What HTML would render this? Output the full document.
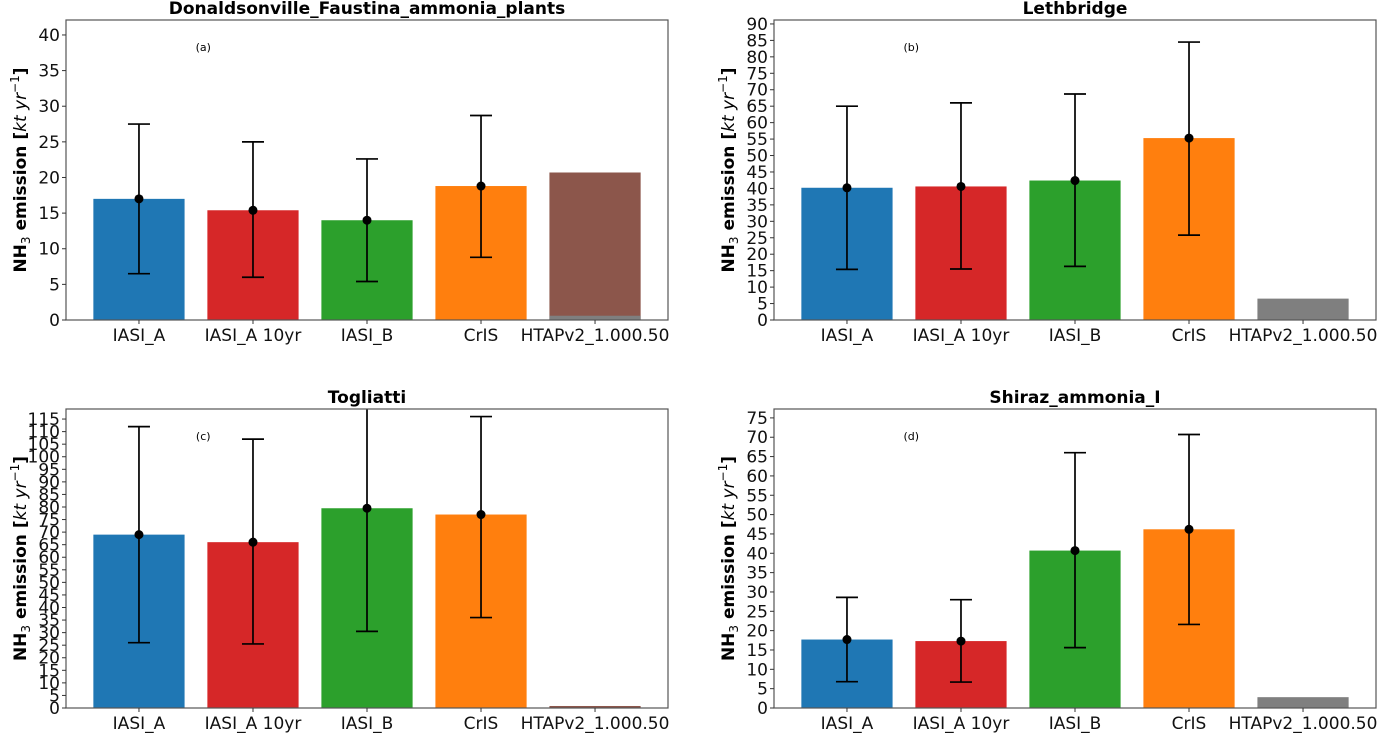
<!DOCTYPE html>
<html><head><meta charset="utf-8"><style>
html,body{margin:0;padding:0;background:#fff;}
svg{display:block;font-family:"DejaVu Sans","Liberation Sans",sans-serif;}
</style></head><body>
<svg id="fig" width="1378" height="734" viewBox="0 0 1378 734" xmlns="http://www.w3.org/2000/svg"></svg>
<script>
const categories = ["IASI_A","IASI_A 10yr","IASI_B","CrIS","HTAPv2_1.000.50"];
const titles = ["Donaldsonville_Faustina_ammonia_plants","Lethbridge","Togliatti","Shiraz_ammonia_I"];
const letters = ["(a)","(b)","(c)","(d)"];
const valuesA = [17.0,15.4,14.0,18.8,20.7];
const lowA = [6.5,6.0,5.4,8.8];
const highA = [27.5,25.0,22.6,28.7];
const valuesB = [40.2,40.6,42.4,55.3,6.5];
const lowB = [15.4,15.5,16.3,25.8];
const highB = [65.0,66.0,68.7,84.5];
const valuesC = [69.0,66.0,79.5,77.0,0.8];
const lowC = [26.0,25.5,30.5,36.0];
const highC = [112.0,107.0,121.0,116.0];
const valuesD = [17.7,17.3,40.7,46.2,2.8];
const lowD = [6.8,6.7,15.6,21.6];
const highD = [28.6,28.0,66.0,70.7];
const htapGrayA = 0.6;
const yMaxes = [42.1,91.2,119,77.3];
const tickSteps = [5,5,5,5];
const barColors = ["#1f77b4","#d62728","#2ca02c","#ff7f0e"];
const htapColors = ["#8c564b","#7f7f7f","#8c564b","#7f7f7f"];

const panels = [
 {x0:66,x1:668,y0:20,y1:320,vals:valuesA,lo:lowA,hi:highA},
 {x0:774,x1:1376,y0:20,y1:320,vals:valuesB,lo:lowB,hi:highB},
 {x0:66,x1:668,y0:409,y1:708,vals:valuesC,lo:lowC,hi:highC},
 {x0:774,x1:1376,y0:409,y1:708,vals:valuesD,lo:lowD,hi:highD}
];
const NS="http://www.w3.org/2000/svg";
const svg=document.getElementById('fig');
function mk(tag,attrs,parent){const e=document.createElementNS(NS,tag);for(const k in attrs)e.setAttribute(k,attrs[k]);(parent||svg).appendChild(e);return e;}

panels.forEach((p,i)=>{
  const g=mk('g',{});
  
  
  const ymax=yMaxes[i];
  const n=categories.length;
  const xmin=-0.64, xmaxv=n-1+0.64;
  const xs=v=>p.x0+(v-xmin)/(xmaxv-xmin)*(p.x1-p.x0);
  const ys=v=>p.y1-v/ymax*(p.y1-p.y0);
  const clip=mk('clipPath',{id:'clip'+i},g);
  mk('rect',{x:p.x0,y:p.y0,width:p.x1-p.x0,height:p.y1-p.y0},clip);
  const pg=mk('g',{'clip-path':'url(#clip'+i+')'},g);
  p.vals.forEach((v,k)=>{
    const bw=(xs(0.4)-xs(-0.4));
    const col=k<4?barColors[k]:htapColors[i];
    const r=mk('rect',{x:xs(k)-bw/2,y:ys(v),width:bw,height:ys(0)-ys(v),fill:col},pg);
    
    
    if(k===4&&i===0){
      const r2=mk('rect',{x:xs(k)-bw/2,y:ys(htapGrayA),width:bw,height:ys(0)-ys(htapGrayA),fill:'#7f7f7f'},pg);
      
      
    }
  });
  p.lo.forEach((lo,k)=>{
    const cx=xs(k), hi=p.hi[k];
    const eg=mk('g',{stroke:'#000','stroke-width':1.7},pg);
    
    
    mk('line',{x1:cx,x2:cx,y1:ys(lo),y2:ys(hi)},eg);
    mk('line',{x1:cx-11,x2:cx+11,y1:ys(lo),y2:ys(lo)},eg);
    mk('line',{x1:cx-11,x2:cx+11,y1:ys(hi),y2:ys(hi)},eg);
    const c=mk('circle',{cx:cx,cy:ys(p.vals[k]),r:4.5,fill:'#000'},pg);
    
    
  });
  const fr=mk('rect',{x:p.x0,y:p.y0,width:p.x1-p.x0,height:p.y1-p.y0,fill:'none',stroke:'#555','stroke-width':1.2},g);
  
  
  for(let t=0;t<=ymax;t+=tickSteps[i]){
    const y=ys(t);
    mk('line',{x1:p.x0-4,x2:p.x0,y1:y,y2:y,stroke:'#333','stroke-width':1},g);
    const tx=mk('text',{x:p.x0-6,y:y+6,'text-anchor':'end','font-size':17,fill:'#111'},g);
    tx.textContent=t;
    
    
  }
  categories.forEach((c,k)=>{
    const x=xs(k);
    mk('line',{x1:x,x2:x,y1:p.y1,y2:p.y1+4,stroke:'#333','stroke-width':1},g);
    const tx=mk('text',{x:x,y:p.y1+21,'text-anchor':'middle','font-size':17,fill:'#111'},g);
    tx.textContent=c;
    
    
  });
  const tt=mk('text',{x:(p.x0+p.x1)/2,y:p.y0-6,'text-anchor':'middle','font-size':17,'font-weight':'bold',fill:'#000'},g);
  tt.textContent=titles[i];
  
  
  const lt=mk('text',{x:p.x0+(p.x1-p.x0)*0.228,y:p.y0+31,'text-anchor':'middle','font-size':11,fill:'#000'},g);
  lt.textContent=letters[i];
  
  
  const lx=i%2===0?20:728, ly=(p.y0+p.y1)/2;
  const yl=mk('text',{x:0,y:0,'text-anchor':'middle','font-size':17,'font-weight':'bold',fill:'#000',transform:'translate('+(lx+6)+','+ly+') rotate(-90)'},g);
  
  
  yl.innerHTML='NH<tspan font-size="12" dy="4" font-weight="normal">3</tspan><tspan dy="-4"> emission [</tspan><tspan font-style="italic" font-weight="normal">kt yr</tspan><tspan font-size="12" dy="-7" font-weight="normal">−1</tspan><tspan dy="7">]</tspan>';
});
</script>
</body></html>
